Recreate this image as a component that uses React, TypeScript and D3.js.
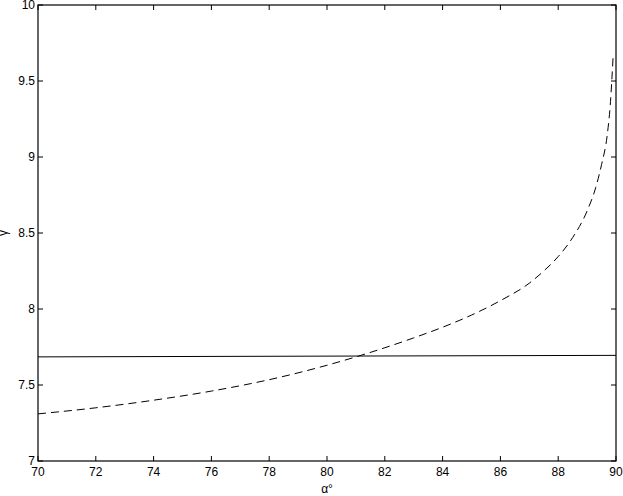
import React from "react";
import * as d3 from "d3";

// angle alpha (degrees) and gamma values
const alphaDashed = [70, 72, 74, 76, 78, 80, 82, 83, 84, 85, 86, 87, 87.5, 88, 88.5, 89, 89.3, 89.5, 89.7, 89.8, 89.9];
const gammaDashed = [7.31, 7.35, 7.4, 7.46, 7.535, 7.63, 7.745, 7.81, 7.88, 7.96, 8.055, 8.17, 8.25, 8.345, 8.47, 8.645, 8.8, 8.95, 9.15, 9.34, 9.66];

const alphaSolid = [70, 90];
const gammaSolid = [7.685, 7.695];

const xTicks = [70, 72, 74, 76, 78, 80, 82, 84, 86, 88, 90];
const yTicks = [7, 7.5, 8, 8.5, 9, 9.5, 10];

const width = 623;
const height = 496;
const margin = { top: 5, right: 7, bottom: 35, left: 38 };

export default function App() {
  const x = d3.scaleLinear().domain([70, 90]).range([margin.left, width - margin.right]);
  const y = d3.scaleLinear().domain([7, 10]).range([height - margin.bottom, margin.top]);

  const dashed = d3
    .line<[number, number]>()
    .x((d) => x(d[0]))
    .y((d) => y(d[1]))
    .curve(d3.curveMonotoneX)(alphaDashed.map((a, i) => [a, gammaDashed[i]]));
  const solid = d3
    .line<[number, number]>()
    .x((d) => x(d[0]))
    .y((d) => y(d[1]))(alphaSolid.map((a, i) => [a, gammaSolid[i]]));

  const x0 = x(70);
  const x1 = x(90);
  const y0 = y(7);
  const y1 = y(10);
  const tl = 5;
  const font = "Liberation Sans, Arial, Helvetica, sans-serif";

  return (
    <svg
      width={width}
      height={height}
      style={{ position: "absolute", left: 0, top: 0, background: "#fff" }}
      fontFamily={font}
      fontSize={12}
    >
      <path d={solid ?? ""} fill="none" stroke="#000" strokeWidth={1} />
      <path d={dashed ?? ""} fill="none" stroke="#000" strokeWidth={1} strokeDasharray="8,5" />

      {/* ticks on all four sides, pointing inward */}
      <g stroke="#000" strokeWidth={1}>
        {xTicks.map((t) => (
          <g key={"x" + t}>
            <line x1={x(t)} x2={x(t)} y1={y0} y2={y0 - tl} />
            <line x1={x(t)} x2={x(t)} y1={y1} y2={y1 + tl} />
          </g>
        ))}
        {yTicks.map((t) => (
          <g key={"y" + t}>
            <line x1={x0} x2={x0 + tl} y1={y(t)} y2={y(t)} />
            <line x1={x1} x2={x1 - tl} y1={y(t)} y2={y(t)} />
          </g>
        ))}
      </g>
      <rect x={x0} y={y1} width={x1 - x0} height={y0 - y1} fill="none" stroke="#000" strokeWidth={1.2} />

      {xTicks.map((t) => (
        <text key={"xl" + t} x={x(t)} y={y0 + 15} textAnchor="middle">
          {t}
        </text>
      ))}
      {yTicks.map((t) => (
        <text key={"yl" + t} x={x0 - 3} y={y(t)} textAnchor="end" dominantBaseline="central">
          {t}
        </text>
      ))}

      <text x={(x0 + x1) / 2} y={height - 3} textAnchor="middle">
        α°
      </text>
      <text transform={`translate(7,${(y0 + y1) / 2}) rotate(-90)`} textAnchor="middle">
        γ
      </text>
    </svg>
  );
}
